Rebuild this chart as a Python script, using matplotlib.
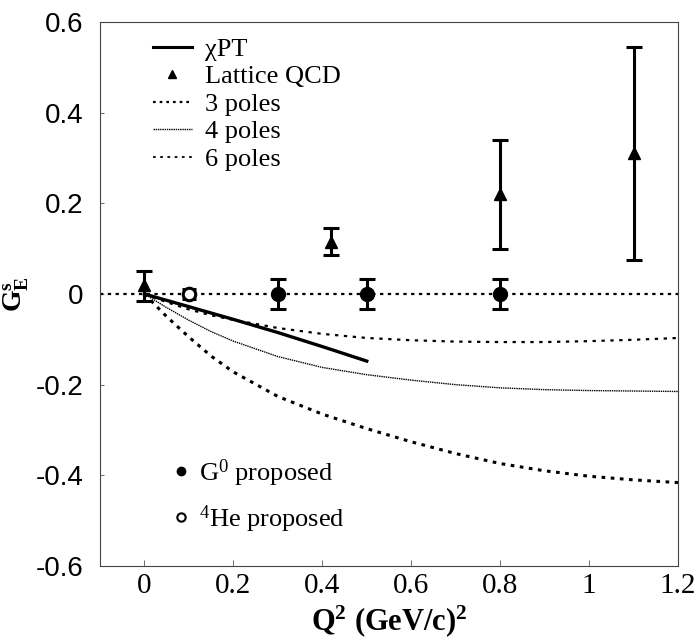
import matplotlib
matplotlib.use("Agg")
import matplotlib.pyplot as plt
from matplotlib.lines import Line2D

plt.rcParams["mathtext.fontset"] = "custom"
plt.rcParams["mathtext.rm"] = "Liberation Serif"
plt.rcParams["mathtext.it"] = "Liberation Serif:italic"
plt.rcParams["mathtext.bf"] = "Liberation Serif:bold"

# ---- data ----
curve_x = [0, 0.05, 0.1, 0.15, 0.2, 0.3, 0.4, 0.5, 0.6, 0.7, 0.8, 0.9, 1.0, 1.1, 1.2]
poles3 = [0, -0.05, -0.095, -0.137, -0.172, -0.226, -0.265, -0.297, -0.326, -0.352, -0.374, -0.39, -0.402, -0.41, -0.416]
poles4 = [0, -0.03, -0.058, -0.083, -0.104, -0.138, -0.162, -0.178, -0.19, -0.2, -0.207, -0.211, -0.213, -0.214, -0.215]
poles6 = [0, -0.018, -0.034, -0.047, -0.057, -0.075, -0.088, -0.097, -0.102, -0.105, -0.106, -0.106, -0.104, -0.101, -0.097]

chpt_x = [0, 0.1, 0.2, 0.3, 0.4, 0.5]
chpt_y = [0, -0.028, -0.056, -0.085, -0.116, -0.148]

lat_x = [0, 0.42, 0.8, 1.1]
lat_y = [0.02, 0.115, 0.22, 0.31]
lat_up = [0.03, 0.03, 0.12, 0.235]
lat_dn = [0.035, 0.03, 0.12, 0.235]

g0_x = [0.3, 0.5, 0.8]
g0_y = [0, 0, 0]
g0_err = [0.033, 0.033, 0.033]

he_x = [0.1]
he_y = [0]
he_err = [0.01]

xticks = [0, 0.2, 0.4, 0.6, 0.8, 1.0, 1.2]
xticklabels = ["0", "0.2", "0.4", "0.6", "0.8", "1", "1.2"]
yticks = [-0.6, -0.4, -0.2, 0, 0.2, 0.4, 0.6]
yticklabels = ["-0.6", "-0.4", "-0.2", "0", "0.2", "0.4", "0.6"]

serif = "Liberation Serif"
sans = "Liberation Sans"

fig = plt.figure(figsize=(6.99, 6.42), dpi=100)
ax = fig.add_axes([100/699, 1 - 566/642, 578/699, 544/642])

ax.set_xlim(-0.1, 1.2)
ax.set_ylim(-0.6, 0.6)

# zero line
ax.axhline(0, color="black", lw=1.6, ls=(0, (1.5, 2)))

# model curves
ax.plot(curve_x, poles3, color="black", lw=2.2, ls=(0, (1.2, 1.8)))
ax.plot(curve_x, poles4, color="black", lw=1.0, ls=(0, (1.0, 0.6)))
ax.plot(curve_x, poles6, color="black", lw=1.6, ls=(0, (1.5, 2.5)))
ax.plot(chpt_x, chpt_y, color="black", lw=2.4, ls="-")

# data
ax.errorbar(lat_x, lat_y, yerr=[lat_dn, lat_up], fmt="^", color="black",
            ms=9, elinewidth=2.2, capsize=6, capthick=2.2)
ax.errorbar(g0_x, g0_y, yerr=g0_err, fmt="o", color="black",
            ms=10, elinewidth=2.2, capsize=6, capthick=2.2)
ax.errorbar(he_x, he_y, yerr=he_err, fmt="o", color="black", mfc="white",
            mew=2.2, ms=9, elinewidth=2.2, capsize=5, capthick=2.2)

ax.set_xticks(xticks)
ax.set_xticklabels(xticklabels, fontfamily=serif, fontsize=21)
ax.set_yticks(yticks)
ax.set_yticklabels(yticklabels, fontfamily=sans, fontsize=20)
ax.tick_params(axis="x", direction="in", length=4, width=0.6, pad=5, color="#555555")
ax.tick_params(axis="y", direction="in", length=3, width=0.6, pad=12, color="#555555")
for s in ax.spines.values():
    s.set_linewidth(0.8)
    s.set_color("#444444")

ax.set_xlabel(r"Q$^{\mathbf{2}}$ (GeV/c)$^{\mathbf{2}}$", fontfamily=serif,
              fontsize=22, fontweight="bold", labelpad=3)
ax.set_ylabel(r"G$_{\mathbf{E}}^{\mathbf{s}}$", fontfamily=serif, fontsize=20,
              fontweight="bold", labelpad=3)

# legend 1
h1 = [
    Line2D([], [], color="black", lw=2.2, ls="-"),
    Line2D([], [], color="black", ls="none", marker="^", ms=6),
    Line2D([], [], color="black", lw=1.6, ls=(0, (1.2, 1.8))),
    Line2D([], [], color="black", lw=1.0, ls=(0, (1.0, 0.6))),
    Line2D([], [], color="black", lw=1.3, ls=(0, (1.5, 2.5))),
]
l1 = ["χPT", "Lattice QCD", "3 poles", "4 poles", "6 poles"]
leg1 = ax.legend(h1, l1, loc="upper left", bbox_to_anchor=(0.05, 1.015),
                 frameon=False, prop={"family": serif, "size": 19},
                 handlelength=1.5, handletextpad=0.5, labelspacing=0.15)
ax.add_artist(leg1)

h2 = [
    Line2D([], [], color="black", ls="none", marker="o", ms=6),
    Line2D([], [], color="black", ls="none", marker="o", ms=6, mfc="white", mew=1.5),
]
l2 = [r"G$^{0}$ proposed", r"$^{4}$He proposed"]
ax.legend(h2, l2, loc="lower left", bbox_to_anchor=(0.085, 0.014),
          frameon=False, prop={"family": serif, "size": 19},
          handlelength=0.6, handletextpad=0.4, labelspacing=0.55)

fig.savefig("out.png", dpi=100)
